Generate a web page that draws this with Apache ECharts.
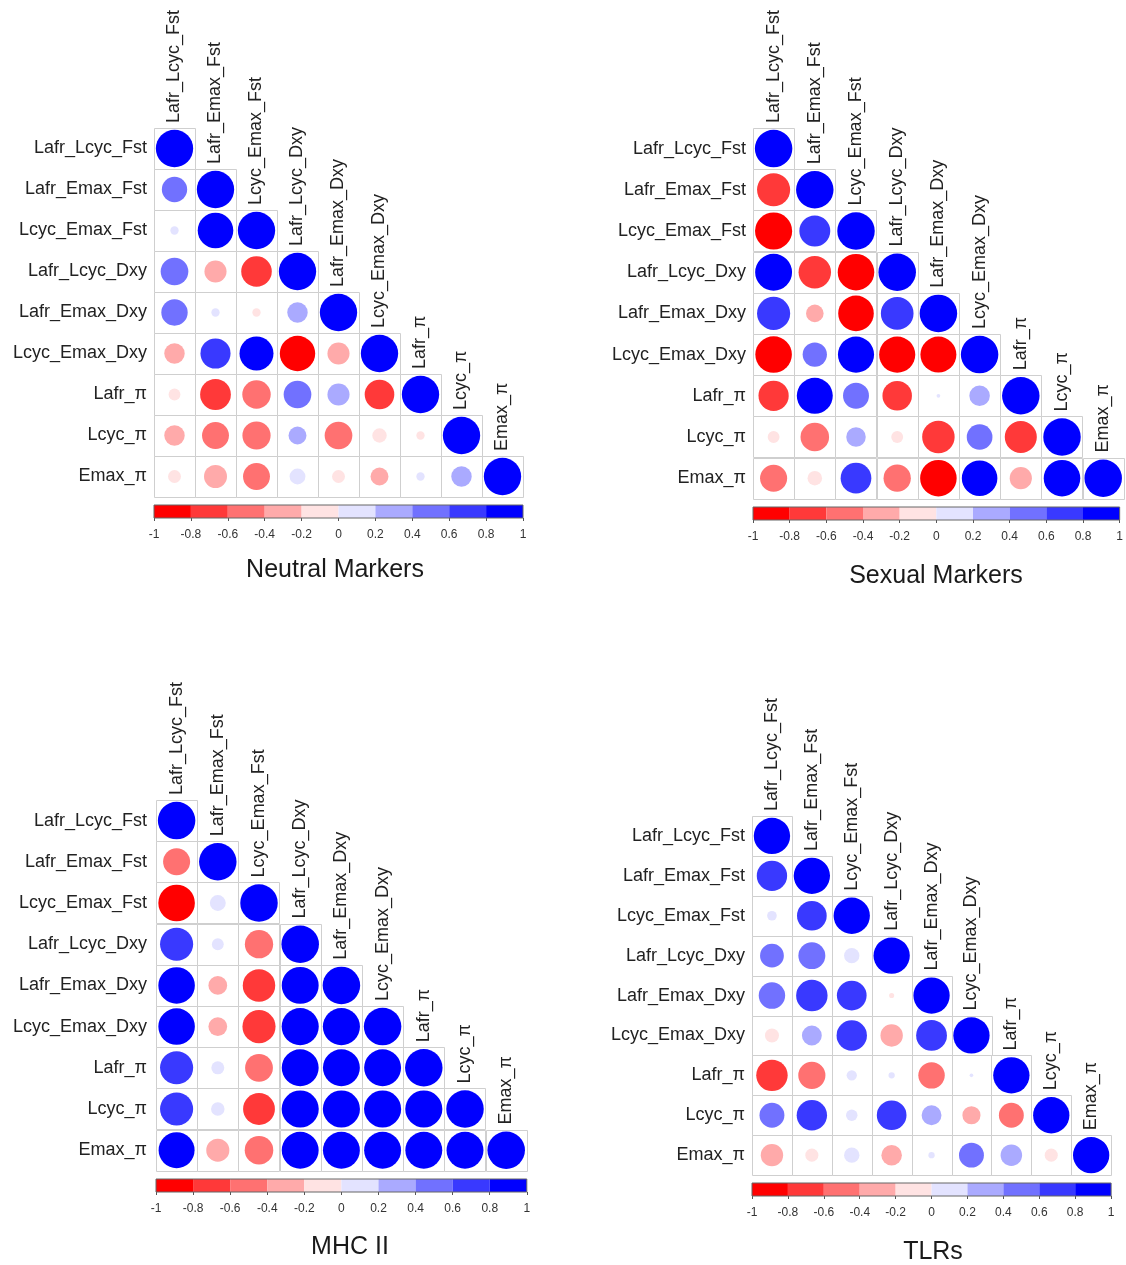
<!DOCTYPE html>
<html>
<head>
<meta charset="utf-8">
<script src="https://cdn.jsdelivr.net/npm/echarts@6/dist/echarts.min.js"></script>
<style>
  html, body { margin: 0; padding: 0; background: #ffffff; }
  #chart { width: 1126px; height: 1265px; }
</style>
</head>
<body>
<div id="chart"></div>
<script>
// Variables compared in every correlation matrix (same order on both axes)
const variables = [
  'Lafr_Lcyc_Fst', 'Lafr_Emax_Fst', 'Lcyc_Emax_Fst',
  'Lafr_Lcyc_Dxy', 'Lafr_Emax_Dxy', 'Lcyc_Emax_Dxy',
  'Lafr_π', 'Lcyc_π', 'Emax_π'
];

// Lower-triangular correlation coefficients, row by row (diagonal included)
const neutralMarkers = [
  [1],
  [0.46, 1],
  [0.05, 0.91, 1],
  [0.55, -0.35, -0.67, 1],
  [0.50, 0.05, -0.05, 0.30, 1],
  [-0.30, 0.65, 0.83, -0.90, -0.35, 1],
  [-0.10, -0.68, -0.58, 0.55, 0.35, -0.63, 1],
  [-0.30, -0.52, -0.57, 0.23, -0.55, -0.15, -0.05, 1],
  [-0.12, -0.38, -0.52, 0.18, -0.12, -0.23, 0.05, 0.30, 1]
];

const sexualMarkers = [
  [1],
  [-0.78, 1],
  [-0.98, 0.68, 1],
  [0.97, -0.75, -0.95, 1],
  [0.78, -0.22, -0.90, 0.76, 1],
  [-0.95, 0.42, 0.93, -0.93, -0.92, 1],
  [-0.65, 0.92, 0.48, -0.62, 0.01, 0.30, 1],
  [-0.10, -0.58, 0.27, -0.10, -0.75, 0.47, -0.73, 1],
  [-0.52, -0.15, 0.67, -0.53, -0.95, 0.90, -0.35, 0.95, 1]
];

const mhcII = [
  [1],
  [-0.52, 1],
  [-0.95, 0.18, 1],
  [0.78, 0.10, -0.57, 1],
  [0.95, -0.25, -0.75, 0.97, 1],
  [0.95, -0.25, -0.78, 0.98, 0.98, 1],
  [0.78, 0.12, -0.55, 0.97, 0.97, 0.97, 1],
  [0.78, 0.13, -0.72, 0.98, 0.98, 0.98, 0.98, 1],
  [0.92, -0.38, -0.58, 0.97, 0.97, 0.97, 0.97, 0.97, 1]
];

const tlrs = [
  [1],
  [0.70, 1],
  [0.07, 0.67, 1],
  [0.43, 0.55, 0.18, 1],
  [0.53, 0.75, 0.67, -0.02, 1],
  [-0.15, 0.30, 0.70, -0.38, 0.72, 1],
  [-0.75, -0.56, 0.08, 0.03, -0.53, 0.01, 1],
  [0.47, 0.70, 0.10, 0.67, 0.30, -0.25, -0.47, 1],
  [-0.38, -0.13, 0.18, -0.32, 0.03, 0.47, 0.35, -0.13, 1]
];

const panelTitles = ['Neutral Markers', 'Sexual Markers', 'MHC II', 'TLRs'];
const panelMatrices = [neutralMarkers, sexualMarkers, mhcII, tlrs];

// Colour scale: ten equal bins between -1 and 1
const colorBreaks = [-1, -0.8, -0.6, -0.4, -0.2, 0, 0.2, 0.4, 0.6, 0.8, 1];
const palette = ['#FF0000', '#FF3939', '#FF7171', '#FFAAAA', '#FFE3E3',
                 '#E3E3FF', '#AAAAFF', '#7171FF', '#3939FF', '#0000FF'];

// Placement of each panel on the page
const layout = [
  { left: 154, top: 128, cell: 41.0, barTop: 505, titleX: 335, titleY: 570, labelGap: 7 },
  { left: 753, top: 128, cell: 41.2, barTop: 507, titleX: 936, titleY: 576, labelGap: 7 },
  { left: 156, top: 800, cell: 41.2, barTop: 1179, titleX: 350, titleY: 1247, labelGap: 9 },
  { left: 752, top: 816, cell: 39.9, barTop: 1183, titleX: 933, titleY: 1252, labelGap: 7 }
];
const BAR_HEIGHT = 13;
const FONT = "'Liberation Sans', Arial, Helvetica, sans-serif";

function colorFor(r) {
  for (let k = 0; k < palette.length; k++) {
    if (r < colorBreaks[k + 1] || k === palette.length - 1) return palette[k];
  }
  return palette[palette.length - 1];
}

const grids = [], xAxes = [], yAxes = [], series = [], graphics = [];

panelMatrices.forEach((matrix, p) => {
  const L = layout[p];
  const n = variables.length;
  const size = L.cell * n;
  const gMatrix = 2 * p, gBar = 2 * p + 1;

  grids.push({ left: L.left, top: L.top, width: size, height: size });
  grids.push({ left: L.left, top: L.barTop, width: size, height: BAR_HEIGHT });

  // Matrix axes
  xAxes.push({
    type: 'category', gridIndex: gMatrix, data: variables, show: false
  });
  yAxes.push({
    type: 'category', gridIndex: gMatrix, data: variables, inverse: true,
    axisLine: { show: false }, axisTick: { show: false }, splitLine: { show: false },
    axisLabel: { fontSize: 18, color: '#222', margin: L.labelGap, fontFamily: FONT }
  });

  // Colour-bar axes
  xAxes.push({
    type: 'value', gridIndex: gBar, min: -1, max: 1, interval: 0.2,
    axisLine: { show: false }, splitLine: { show: false },
    axisTick: { show: true, length: 3, lineStyle: { color: '#555' } },
    axisLabel: { fontSize: 12, color: '#333', margin: 11, fontFamily: FONT,
                 formatter: v => String(Math.round(v * 10) / 10) }
  });
  yAxes.push({ type: 'category', gridIndex: gBar, data: ['r'], show: false });

  const cells = [], circles = [], diag = [];
  matrix.forEach((row, i) => {
    row.forEach((r, j) => {
      cells.push([j, i]);
      circles.push([j, i, r]);
    });
    diag.push([i, i]);
  });

  // Cell outlines of the lower triangle
  series.push({
    type: 'custom', xAxisIndex: gMatrix, yAxisIndex: gMatrix, z: 1,
    data: cells, encode: { x: 0, y: 1 }, silent: true,
    renderItem(params, api) {
      const c = api.coord([api.value(0), api.value(1)]);
      const s = api.size([1, 1]);
      return {
        type: 'rect',
        shape: { x: Math.round(c[0] - s[0] / 2) + 0.5, y: Math.round(c[1] - s[1] / 2) + 0.5,
                 width: Math.round(s[0]), height: Math.round(s[1]) },
        style: { fill: '#ffffff', stroke: '#cfcfcf', lineWidth: 1 }
      };
    }
  });

  // Circles: area proportional to |r|, colour from the binned scale
  series.push({
    type: 'custom', xAxisIndex: gMatrix, yAxisIndex: gMatrix, z: 2,
    data: circles, encode: { x: 0, y: 1 }, silent: true,
    renderItem(params, api) {
      const c = api.coord([api.value(0), api.value(1)]);
      const s = api.size([1, 1]);
      const r = api.value(2);
      return {
        type: 'circle',
        shape: { cx: c[0], cy: c[1], r: 0.455 * Math.min(s[0], s[1]) * Math.sqrt(Math.abs(r)) },
        style: { fill: colorFor(r) }
      };
    }
  });

  // Column names, written vertically above each diagonal cell
  series.push({
    type: 'custom', xAxisIndex: gMatrix, yAxisIndex: gMatrix, z: 3,
    data: diag, encode: { x: 0, y: 1 }, silent: true,
    renderItem(params, api) {
      const c = api.coord([api.value(0), api.value(1)]);
      const s = api.size([1, 1]);
      return {
        type: 'text',
        x: c[0], y: c[1] - s[1] / 2 - 5,
        rotation: Math.PI / 2,
        style: {
          text: variables[params.dataIndex],
          fill: '#222', font: '18px ' + FONT,
          align: 'left', verticalAlign: 'middle',
          textAlign: 'left', textVerticalAlign: 'middle'
        }
      };
    }
  });

  // Colour bar segments
  series.push({
    type: 'custom', xAxisIndex: gBar, yAxisIndex: gBar, z: 2,
    data: palette.map((col, k) => [colorBreaks[k], colorBreaks[k + 1], k]),
    encode: { x: [0, 1] }, silent: true,
    renderItem(params, api) {
      const a = api.coord([api.value(0), 0]);
      const b = api.coord([api.value(1), 0]);
      const h = api.size([0, 1])[1];
      return {
        type: 'rect',
        shape: { x: a[0], y: a[1] - h / 2, width: b[0] - a[0], height: h },
        style: { fill: palette[api.value(2)] }
      };
    }
  });

  // Colour bar frame
  series.push({
    type: 'custom', xAxisIndex: gBar, yAxisIndex: gBar, z: 3,
    data: [[colorBreaks[0], colorBreaks[colorBreaks.length - 1]]],
    encode: { x: [0, 1] }, silent: true,
    renderItem(params, api) {
      const a = api.coord([api.value(0), 0]);
      const b = api.coord([api.value(1), 0]);
      const h = api.size([0, 1])[1];
      return {
        type: 'rect',
        shape: { x: a[0], y: a[1] - h / 2, width: b[0] - a[0], height: h },
        style: { fill: 'none', stroke: '#666', lineWidth: 1 }
      };
    }
  });

  graphics.push({
    type: 'text', x: L.titleX, y: L.titleY,
    style: { text: panelTitles[p], fill: '#1a1a1a', font: '25px ' + FONT,
             align: 'center', verticalAlign: 'middle',
             textAlign: 'center', textVerticalAlign: 'middle' }
  });
});

const chart = echarts.init(document.getElementById('chart'), null, { renderer: 'canvas' });
chart.setOption({
  backgroundColor: '#ffffff',
  animation: false,
  textStyle: { fontFamily: FONT },
  grid: grids,
  xAxis: xAxes,
  yAxis: yAxes,
  series: series,
  graphic: graphics
});
</script>
</body>
</html>
